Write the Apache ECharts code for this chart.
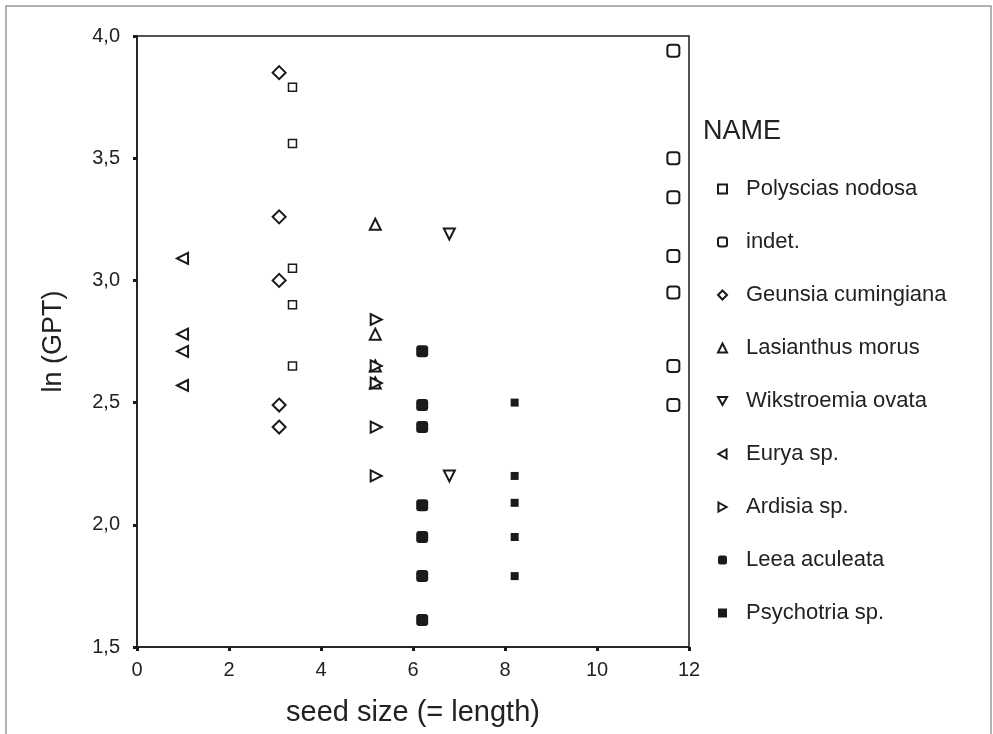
<!DOCTYPE html>
<html lang="en">
<head>
    <meta charset="UTF-8">
    <title>seed size vs ln (GPT)</title>
    <script src="https://cdn.jsdelivr.net/npm/echarts@6/dist/echarts.min.js"></script>
    <style>
        html, body { margin: 0; padding: 0; background: #fff; }
        #chart1 { width: 993px; height: 734px; }
    </style>
</head>
<body>
<div id="chart1"></div>
<script>
    // species names (legend order)
    var names = ['Polyscias nodosa', 'indet.', 'Geunsia cumingiana', 'Lasianthus morus',
        'Wikstroemia ovata', 'Eurya sp.', 'Ardisia sp.', 'Leea aculeata', 'Psychotria sp.'];
    // seed size (x) of each species
    var seedSize = [3.38, 11.66, 3.09, 5.18, 6.79, 0.99, 5.2, 6.2, 8.21];
    // ln (GPT) values per species
    var polysciasY = [3.79, 3.56, 3.05, 2.90, 2.65];
    var indetY = [3.94, 3.50, 3.34, 3.10, 2.95, 2.65, 2.49];
    var geunsiaY = [3.85, 3.26, 3.00, 2.49, 2.40];
    var lasianthusY = [3.23, 2.78, 2.65, 2.58];
    var wikstroemiaY = [3.19, 2.20];
    var euryaY = [3.09, 2.78, 2.71, 2.57];
    var ardisiaY = [2.84, 2.65, 2.58, 2.40, 2.20];
    var leeaY = [2.71, 2.49, 2.40, 2.08, 1.95, 1.79, 1.61];
    var psychotriaY = [2.50, 2.20, 2.09, 1.95, 1.79];
    var xTicks = [0, 2, 4, 6, 8, 10, 12];
    var yTicks = [1.5, 2.0, 2.5, 3.0, 3.5, 4.0];

    var allY = [polysciasY, indetY, geunsiaY, lasianthusY, wikstroemiaY, euryaY, ardisiaY, leeaY, psychotriaY];
    // marker look per species (icon = legend shape, rotated triangles need their own path)
    var marks = [
        {symbol: 'rect', size: 8, rot: 0, open: true, bw: 1.5, icon: 'rect'},
        {symbol: 'roundRect', size: 12, rot: 0, open: true, bw: 2, icon: 'roundRect'},
        {symbol: 'diamond', size: 13, rot: 0, open: true, bw: 2, icon: 'diamond'},
        {symbol: 'triangle', size: 11, rot: 0, open: true, bw: 2, icon: 'triangle'},
        {symbol: 'triangle', size: 11, rot: 180, open: true, bw: 2, icon: 'path://M0,0L10,0L5,9Z'},
        {symbol: 'triangle', size: 11, rot: 90, open: true, bw: 2, icon: 'path://M9,0L9,10L0,5Z'},
        {symbol: 'triangle', size: 11, rot: -90, open: true, bw: 2, icon: 'path://M0,0L9,5L0,10Z'},
        {symbol: 'roundRect', size: 12, rot: 0, open: false, bw: 0, icon: 'roundRect'},
        {symbol: 'rect', size: 8, rot: 0, open: false, bw: 0, icon: 'rect'}
    ];

    var font = 'Liberation Sans';
    var series = names.map(function (n, i) {
        var m = marks[i];
        return {
            name: n,
            type: 'scatter',
            symbol: m.symbol,
            symbolSize: m.size,
            symbolRotate: m.rot,
            itemStyle: {
                color: m.open ? '#fff' : '#1a1a1a',
                borderColor: '#1a1a1a',
                borderWidth: m.bw,
                opacity: 1
            },
            emphasis: {disabled: true},
            data: allY[i].map(function (y) { return [seedSize[i], y]; })
        };
    });

    var myChart = echarts.init(document.getElementById('chart1'));
    var option1 = {
        animation: false,
        backgroundColor: '#fff',
        grid: {
            left: 137, top: 36, width: 552, height: 611,
            show: true, borderColor: '#1a1a1a', borderWidth: 1.5
        },
        xAxis: {
            type: 'value',
            min: xTicks[0], max: xTicks[xTicks.length - 1], interval: 2,
            name: 'seed size (= length)',
            nameLocation: 'middle', nameGap: 51,
            nameTextStyle: {fontFamily: font, fontSize: 29, color: '#222'},
            axisLine: {lineStyle: {color: '#1a1a1a', width: 1.5}},
            axisTick: {length: 4, lineStyle: {color: '#1a1a1a', width: 3}},
            axisLabel: {fontFamily: font, fontSize: 20, color: '#222', margin: 13},
            splitLine: {show: false}
        },
        yAxis: {
            type: 'value',
            min: yTicks[0], max: yTicks[yTicks.length - 1], interval: 0.5,
            name: 'ln (GPT)',
            nameLocation: 'middle', nameGap: 70,
            nameTextStyle: {fontFamily: font, fontSize: 27, color: '#222'},
            axisLine: {lineStyle: {color: '#1a1a1a', width: 1.5}},
            axisTick: {length: 4, lineStyle: {color: '#1a1a1a', width: 3}},
            axisLabel: {
                fontFamily: font, fontSize: 20, color: '#222', margin: 17,
                formatter: function (v) { return v.toFixed(1).replace('.', ','); }
            },
            splitLine: {show: false}
        },
        legend: {
            orient: 'vertical',
            left: 717, top: 172,
            padding: 0,
            itemWidth: 9, itemHeight: 9,
            itemGap: 19,
            selectedMode: false,
            textStyle: {fontFamily: font, fontSize: 22, color: '#222', lineHeight: 24, padding: [10, 0, 0, 14]},
            data: names.map(function (n, i) {
                return {name: n, icon: marks[i].icon};
            })
        },
        graphic: [
            {type: 'rect', shape: {x: 6, y: 6, width: 985, height: 800},
                style: {fill: 'none', stroke: '#999', lineWidth: 1.5}, silent: true},
            {type: 'text', left: 703, top: 118,
                style: {text: 'NAME', font: '27px "Liberation Sans"', fill: '#222'}}
        ],
        series: series
    };
    myChart.setOption(option1);
</script>
</body>
</html>
